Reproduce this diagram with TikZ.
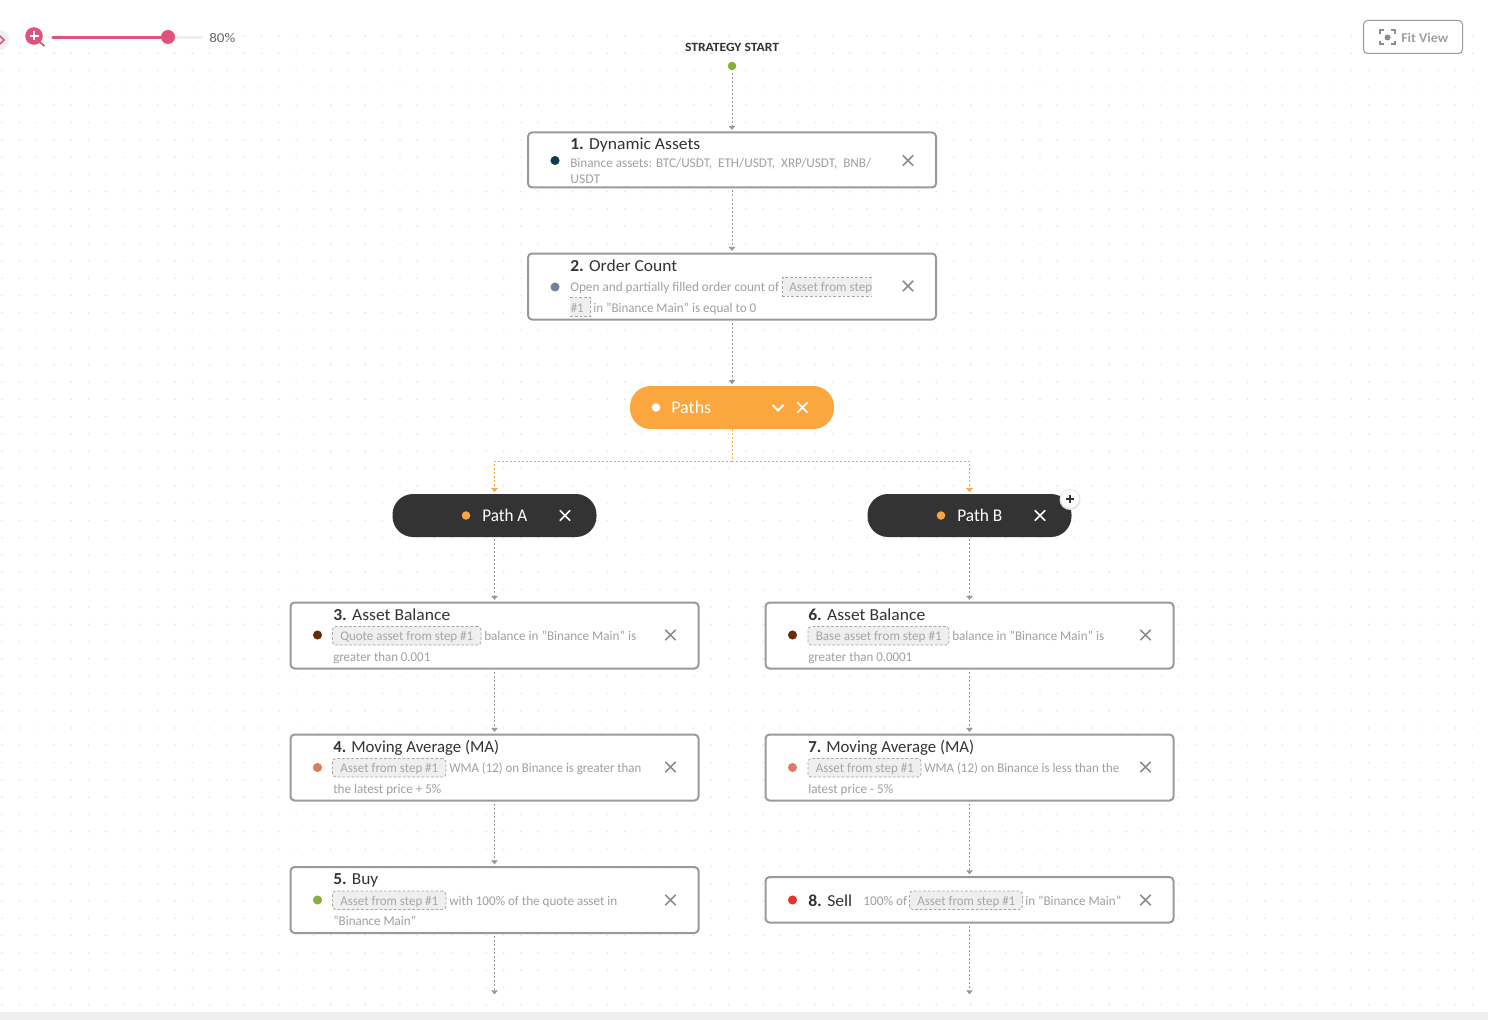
\documentclass[tikz,border=0pt]{standalone}
\usepackage{graphicx}
\usepackage{fontspec}
\setmainfont{Carlito}
\usetikzlibrary{arrows.meta}
\definecolor{gridpink}{HTML}{F9D3DE}
\definecolor{boxgray}{HTML}{9A9A9A}
\definecolor{titlecol}{HTML}{333333}
\definecolor{desccol}{HTML}{A0A0A0}
\definecolor{chipfill}{HTML}{EFEFEF}
\definecolor{chipline}{HTML}{A6A6A6}
\definecolor{linkgray}{HTML}{999999}
\definecolor{xgray}{HTML}{8C8C8C}
\definecolor{orangec}{HTML}{FCA63F}
\definecolor{pillblack}{HTML}{333333}
\definecolor{rosec}{HTML}{E0527E}
\definecolor{greenc}{HTML}{8AAD3C}
\definecolor{HTMLb1}{HTML}{0B3D4B}
\definecolor{HTMLb2}{HTML}{6F8299}
\definecolor{HTMLb3}{HTML}{6B2A05}
\definecolor{HTMLb4}{HTML}{DD7A62}
\definecolor{HTMLb8}{HTML}{E8302E}
\newlength\pxu
\setlength\pxu{0.75pt}
\newcommand\fw[2]{\resizebox{#1\pxu}{\height}{#2}}
% box from corners: options, name, x1, y1, x2, y2
\newcommand\bx[6][]{%
  \pgfmathsetmacro\bxW{(#5-#3)*0.75}%
  \pgfmathsetmacro\bxH{(#6-#4)*0.75}%
  \node[#1,minimum width=\bxW pt,minimum height=\bxH pt] (#2) at ({(#3+#5)/2},{(#4+#6)/2}) {};%
}
\newcommand\crossat[3][xgray]{%
  \draw[#1,line width=1.15pt] (#2-5.2,#3-5.2) -- (#2+5.2,#3+5.2) (#2-5.2,#3+5.2) -- (#2+5.2,#3-5.2);%
}
\tikzset{
  stepbox/.style={draw=boxgray,line width=1.5pt,fill=white,rounded corners=3pt,inner sep=0pt},
  chipbox/.style={draw=chipline,fill=chipfill,line width=0.6pt,dash pattern=on 2pt off 1.5pt,rounded corners=2.5pt,inner sep=0pt},
  pillbox/.style={rounded corners=15.5pt,inner sep=0pt,fill=#1},
  titletext/.style={anchor=west,inner sep=0pt,text=titlecol,font=\fontsize{12.6}{15}\selectfont,text height=10pt,text depth=1pt},
  desctext/.style={anchor=west,inner sep=0pt,text=desccol,font=\fontsize{10}{12}\selectfont,text height=8pt,text depth=0.6pt},
  pilltext/.style={anchor=west,inner sep=0pt,text=white,font=\fontsize{13.4}{15}\selectfont,text height=10.4pt,text depth=1pt},
  statdot/.style={circle,inner sep=0pt,minimum size=#1},
  link/.style={draw=linkgray,line width=0.75pt,dash pattern=on 1.5pt off 1.5pt,-{Triangle[width=4.8pt,length=3pt,fill=linkgray]},shorten >=1.2pt,shorten <=1.5pt},
  orangelink/.style={draw=orangec,line width=0.75pt,dash pattern=on 1.5pt off 1.5pt,-{Triangle[width=4.8pt,length=3pt,fill=orangec]},shorten >=1.2pt},
}
\begin{document}
\begin{tikzpicture}[x=0.75pt,y=-0.75pt]
\useasboundingbox (0,0) rectangle (1488,1020);
\fill[white] (0,0) rectangle (1488,1020);
% dot grid
\fill[gridpink] \foreach \r in {1,...,56}{\foreach \c in {0,...,85}{
  ({2+17.3*\c-0.6},{36+17.3*\r-0.6}) rectangle ++(1.2,1.2)}};
\fill[gridpink] \foreach \c in {14,...,85}{({2+17.3*\c-0.6},{36-0.6}) rectangle ++(1.2,1.2)};
% bottom strip
\fill[chipfill] (0,1012) rectangle (1488,1020);

% top-left controls
\fill[chipfill] (-1,40) circle (10);
\draw[rosec,line width=1.2pt] (0,36) -- (4,40) -- (0,44);
\fill[rosec] (34,36) circle (8.8);
\draw[rosec,line width=1.4pt] (39,41.5) -- (44.5,46);
\draw[white,line width=1.5pt] (29.5,36) -- (38.5,36) (34,31.5) -- (34,40.5);
\draw[chipfill,line width=2.6pt,line cap=round] (53,37.3) -- (201,37.3);
\draw[rosec,line width=2.6pt,line cap=round] (53,37.3) -- (168,37.3);
\node[circle,fill=rosec,inner sep=0pt,minimum size=10.5pt] (knob) at (168,37) {};
\node[desctext,text=black!60] (zoomlabel) at (209,37.5) {\fw{26}{80\%}};

% fit view
\bx[draw=boxgray,line width=0.75pt,fill=white,rounded corners=3pt,inner sep=0pt]{fitbtn}{1363.5}{20.5}{1462.5}{53.5}
\draw[xgray,line width=1.5pt] (1380,34) -- (1380,30.5) -- (1384,30.5) (1391,30.5) -- (1395,30.5) -- (1395,34)
  (1380,41) -- (1380,44.5) -- (1384,44.5) (1391,44.5) -- (1395,44.5) -- (1395,41);
\fill[xgray] (1387.5,37.5) circle (3);
\node[desctext,font=\fontsize{10}{12}\selectfont\bfseries] (fitlabel) at (1401,37.5) {\fw{47}{Fit View}};

% start
\node[anchor=center,inner sep=0pt,text=titlecol,font=\fontsize{9.4}{11}\selectfont\bfseries] (startlabel) at (732,47.5) {\fw{94}{STRATEGY START}};
\node[statdot=6.4pt,fill=greenc] (start) at (732,66) {};

% step boxes
\bx[stepbox]{b1}{528}{132.5}{936}{187.5}
\bx[stepbox]{b2}{528}{253.5}{936}{319.5}
\bx[pillbox=orangec]{paths}{630}{386}{834}{429}
\bx[pillbox=pillblack]{pa}{392.5}{494}{596.5}{537}
\bx[pillbox=pillblack]{pb}{867.5}{494}{1071.5}{537}
\bx[stepbox]{b3}{290.5}{602.5}{698.5}{668.5}
\bx[stepbox]{b4}{290.5}{734.5}{698.5}{800.5}
\bx[stepbox]{b5}{290.5}{867}{698.5}{933}
\bx[stepbox]{b6}{765.5}{602.5}{1173.5}{668.5}
\bx[stepbox]{b7}{765.5}{734.5}{1173.5}{800.5}
\bx[stepbox]{b8}{765.5}{877}{1173.5}{922.5}
\coordinate (endA) at (494.5,996);
\coordinate (endB) at (969.5,996);
\coordinate (junc) at (732,461);

% connectors
\draw[link] (start) -- (b1.north);
\draw[link] (b1.south) -- (b2.north);
\draw[link] (b2.south) -- (paths.north);
\draw[orangelink] (paths.south) -- (junc) -| (pa.north);
\draw[orangelink] (junc) -| (pb.north);
\draw[link] (pa.south) -- (b3.north);
\draw[link] (pb.south) -- (b6.north);
\draw[link] (b3.south) -- (b4.north);
\draw[link] (b4.south) -- (b5.north);
\draw[link] (b5.south) -- (endA);
\draw[link] (b6.south) -- (b7.north);
\draw[link] (b7.south) -- (b8.north);
\draw[link] (b8.south) -- (endB);

% box 1
\node[statdot=6.8pt,fill=HTMLb1] (d1) at (555,160.5) {};
\node[titletext] (t1) at (570,144) {\fw{130}{\textbf{1.} Dynamic Assets}};
\node[desctext] (l1a) at (570,162.5) {\fw{301}{Binance assets: BTC/USDT,\ \ ETH/USDT,\ \ XRP/USDT,\ \ BNB/}};
\node[desctext] (l1b) at (570,178.5) {\fw{30}{USDT}};
\crossat{908}{160.5}

% box 2
\node[statdot=6.8pt,fill=HTMLb2] (d2) at (555,287) {};
\node[titletext] (t2) at (570,265) {\fw{107}{\textbf{2.} Order Count}};
\node[desctext] (l2a) at (570,286.5) {\fw{209}{Open and partially filled order count of}};
\fill[chipfill] (782.5,277.5) rectangle (872,296);
\fill[chipfill] (570,297.5) rectangle (590,316.5);
\draw[chipline,line width=0.6pt,dash pattern=on 2pt off 1.5pt] (872,277.5) -- (782.5,277.5) -- (782.5,296) -- (872,296);
\draw[chipline,line width=0.6pt,dash pattern=on 2pt off 1.5pt] (570,297.5) -- (590,297.5) -- (590,316.5) -- (570,316.5);
\node[desctext,text=chipline] (l2chip) at (789,286.5) {\fw{83}{Asset from step}};
\node[desctext,text=chipline] (l2chipb) at (570.5,307.5) {\fw{13}{\#1}};
\node[desctext] (l2b) at (593,307.5) {\fw{163}{in "Binance Main" is equal to 0}};
\crossat{908}{286}

% paths pills
\node[statdot=6.4pt,fill=white] (d9) at (656,407.5) {};
\node[pilltext] (tp) at (671,407) {\fw{40}{Paths}};
\draw[white,line width=1.4pt] (772.5,405) -- (778,410.5) -- (783.5,405);
\crossat[white]{802.5}{407.5}
\node[statdot=6.4pt,fill=orangec] (dpa) at (466,515.5) {};
\node[pilltext] (tpa) at (482,515) {\fw{45}{Path A}};
\crossat[white]{565}{515.5}
\node[statdot=6.4pt,fill=orangec] (dpb) at (941,515.5) {};
\node[pilltext] (tpb) at (957,515) {\fw{45}{Path B}};
\crossat[white]{1040}{515.5}
\fill[black!10] (1070,499.5) circle (10.5);
\node[circle,fill=white,inner sep=0pt,minimum size=13.5pt] (addb) at (1070,499) {};
\draw[pillblack,line width=1.3pt] (1066,499) -- (1074,499) (1070,495) -- (1070,503);

% box 3
\node[statdot=6.8pt,fill=HTMLb3] (d3) at (317.5,635) {};
\node[titletext] (t3) at (333,614) {\fw{117}{\textbf{3.} Asset Balance}};
\bx[chipbox]{c3}{332.5}{626.5}{481}{645}
\node[desctext,text=chipline] (c3t) at (340,635.5) {\fw{133}{Quote asset from step \#1}};
\node[desctext] (l3a) at (484,635.5) {\fw{152}{balance in "Binance Main" is}};
\node[desctext] (l3b) at (333,656.5) {\fw{97}{greater than 0.001}};
\crossat{670.5}{635}

% box 4
\node[statdot=6.8pt,fill=HTMLb4] (d4) at (317.5,767.5) {};
\node[titletext] (t4) at (333,746) {\fw{166}{\textbf{4.} Moving Average (MA)}};
\bx[chipbox]{c4}{332.5}{758.5}{446}{777}
\node[desctext,text=chipline] (c4t) at (340,767.5) {\fw{98}{Asset from step \#1}};
\node[desctext] (l4a) at (449,767.5) {\fw{192}{WMA (12) on Binance is greater than}};
\node[desctext] (l4b) at (333,789) {\fw{108}{the latest price + 5\%}};
\crossat{670.5}{767}

% box 5
\node[statdot=6.8pt,fill=greenc] (d5) at (317.5,900) {};
\node[titletext] (t5) at (333,878) {\fw{45}{\textbf{5.} Buy}};
\bx[chipbox]{c5}{332.5}{891}{446}{909.5}
\node[desctext,text=chipline] (c5t) at (340,900.5) {\fw{98}{Asset from step \#1}};
\node[desctext] (l5a) at (449,900.5) {\fw{168}{with 100\% of the quote asset in}};
\node[desctext] (l5b) at (333,920.5) {\fw{83}{"Binance Main"}};
\crossat{670.5}{900}

% box 6
\node[statdot=6.8pt,fill=HTMLb3] (d6) at (792.5,635) {};
\node[titletext] (t6) at (808,614) {\fw{117}{\textbf{6.} Asset Balance}};
\bx[chipbox]{c6}{808}{626.5}{949}{645}
\node[desctext,text=chipline] (c6t) at (815.5,635.5) {\fw{126}{Base asset from step \#1}};
\node[desctext] (l6a) at (952,635.5) {\fw{152}{balance in "Binance Main" is}};
\node[desctext] (l6b) at (808,656.5) {\fw{104}{greater than 0.0001}};
\crossat{1145.5}{635}

% box 7
\node[statdot=6.8pt,fill=HTMLb4] (d7) at (792.5,767.5) {};
\node[titletext] (t7) at (808,746) {\fw{166}{\textbf{7.} Moving Average (MA)}};
\bx[chipbox]{c7}{808}{758.5}{921}{777}
\node[desctext,text=chipline] (c7t) at (815.5,767.5) {\fw{98}{Asset from step \#1}};
\node[desctext] (l7a) at (924,767.5) {\fw{195}{WMA (12) on Binance is less than the}};
\node[desctext] (l7b) at (808,789) {\fw{85}{latest price - 5\%}};
\crossat{1145.5}{767}

% box 8
\node[statdot=6.8pt,fill=HTMLb8] (d8) at (792.5,900) {};
\node[titletext] (t8) at (808,900) {\fw{44}{\textbf{8.} Sell}};
\node[desctext] (l8a) at (863,900.5) {\fw{44}{100\% of}};
\bx[chipbox]{c8}{909.5}{891}{1022.5}{909.5}
\node[desctext,text=chipline] (c8t) at (917,900.5) {\fw{98}{Asset from step \#1}};
\node[desctext] (l8b) at (1025,900.5) {\fw{96}{in "Binance Main"}};
\crossat{1145.5}{900}
\end{tikzpicture}
\end{document}
